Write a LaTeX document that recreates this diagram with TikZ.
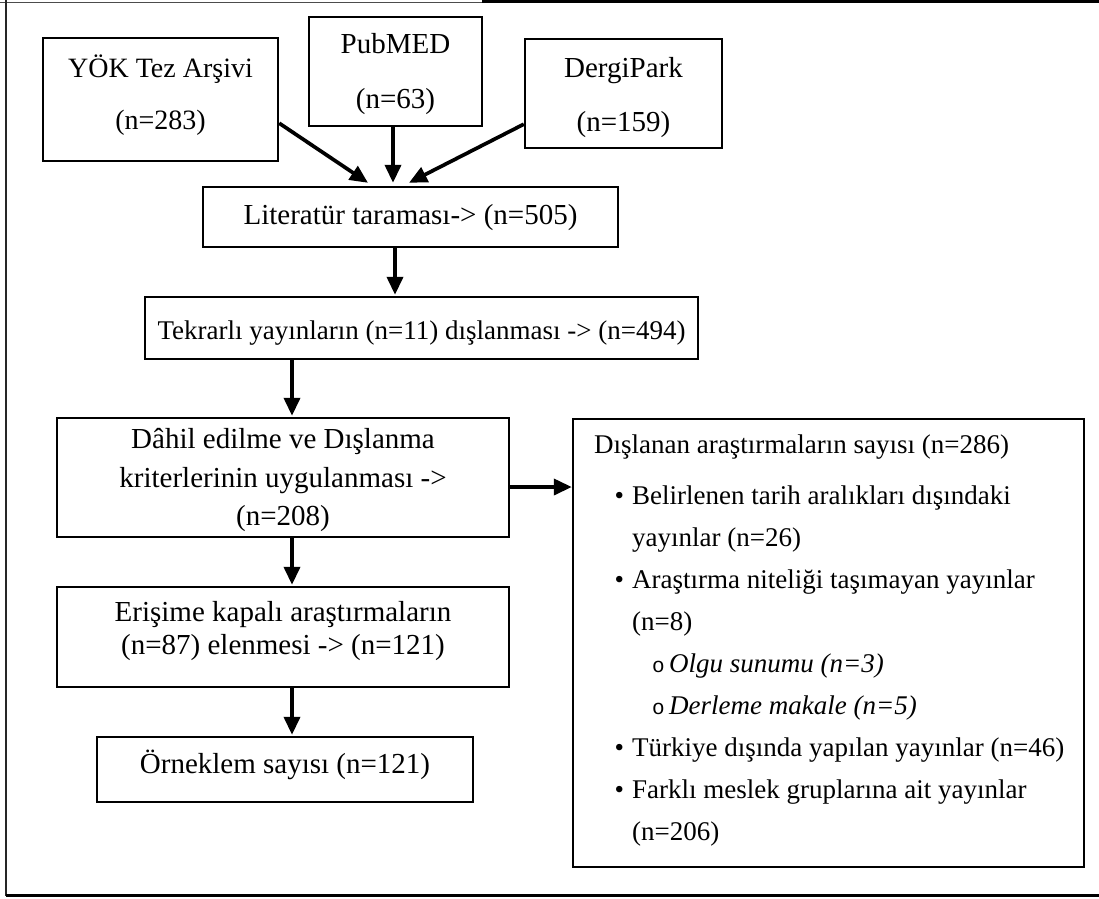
\documentclass[tikz,border=0pt]{standalone}
\usepackage{fontspec}
\setmainfont{Liberation Serif}
\newfontfamily\monofont{Liberation Mono}
\usetikzlibrary{arrows.meta}
\begin{document}
\begin{tikzpicture}[x=1pt,y=-1pt,
  box/.style={draw=black, line width=2.4pt, inner sep=0pt},
  txt/.style={anchor=base, inner sep=0pt, font=\fontsize{29}{34}\selectfont},
  rtxt/.style={anchor=base west, inner sep=0pt, font=\fontsize{27}{34}\selectfont},
  circ/.style={anchor=base west, inner sep=0pt, font=\fontsize{21}{34}\monofont},
  arr/.style={line width=3.7pt, -{Triangle[length=18pt,width=16pt]}},
]
\useasboundingbox (0,0) rectangle (1099,898);
% outer frame
\draw[line width=1pt, black!70] (0,2) -- (482,2);
\draw[line width=3pt, black] (482,1.5) -- (1099,1.5);
\draw[line width=2.5pt, black!85] (6,0) -- (6,896);
\draw[line width=3pt, black] (6,895.5) -- (1099,895.5);

% boxes
\node[box, minimum width=235, minimum height=123] (yok) at (160.5,99.5) {};
\node[box, minimum width=173, minimum height=109] (pub) at (395.5,71.5) {};
\node[box, minimum width=197, minimum height=109] (derg) at (623.5,93.5) {};
\node[box, minimum width=415, minimum height=60] (lit) at (410.5,217) {};
\node[box, minimum width=553, minimum height=62] (tek) at (421.5,328) {};
\node[box, minimum width=452, minimum height=119] (dah) at (283,477.5) {};
\node[box, minimum width=452, minimum height=100] (eri) at (283,637) {};
\node[box, minimum width=376, minimum height=65] (orn) at (285,769.5) {};
\node[box, minimum width=511, minimum height=448] (dis) at (828.5,643) {};

% texts
\node[txt, font=\fontsize{28}{34}\selectfont] (yok1) at (160.5,77) {YÖK Tez Arşivi};
\node[txt, font=\fontsize{28}{34}\selectfont] (yok2) at (160.5,129) {(n=283)};
\node[txt] (pub1) at (395.5,53) {PubMED};
\node[txt] (pub2) at (395.5,108) {(n=63)};
\node[txt] (derg1) at (623.5,77) {DergiPark};
\node[txt] (derg2) at (623.5,131) {(n=159)};
\node[txt] (lit1) at (410.5,224) {Literatür taraması-> (n=505)};
\node[txt, font=\fontsize{27}{34}\selectfont] (tek1) at (421.5,339) {Tekrarlı yayınların (n=11) dışlanması -> (n=494)};
\node[txt] (dah1) at (283,448) {Dâhil edilme ve Dışlanma};
\node[txt] (dah2) at (283,487) {kriterlerinin uygulanması ->};
\node[txt] (dah3) at (283,525) {(n=208)};
\node[txt] (eri1) at (283,621) {Erişime kapalı araştırmaların};
\node[txt] (eri2) at (283,654) {(n=87) elenmesi -> (n=121)};
\node[txt] (orn1) at (285,773) {Örneklem sayısı (n=121)};

\node[rtxt] (h) at (594,453) {Dışlanan araştırmaların sayısı (n=286)};
\node[rtxt] (b1) at (614.5,504) {•};
\node[rtxt] (l1) at (632,504) {Belirlenen tarih aralıkları dışındaki};
\node[rtxt] (l2) at (632,546) {yayınlar (n=26)};
\node[rtxt] (b2) at (614.5,588) {•};
\node[rtxt] (l3) at (632,588) {Araştırma niteliği taşımayan yayınlar};
\node[rtxt] (l4) at (632,630) {(n=8)};
\node[circ] (o1) at (652,672) {o};
\node[rtxt] (l5) at (669,672) {\itshape Olgu sunumu (n=3)};
\node[circ] (o2) at (652,714) {o};
\node[rtxt] (l6) at (669,714) {\itshape Derleme makale (n=5)};
\node[rtxt] (b3) at (614.5,756) {•};
\node[rtxt] (l7) at (632,756) {Türkiye dışında yapılan yayınlar (n=46)};
\node[rtxt] (b4) at (614.5,798) {•};
\node[rtxt] (l8) at (632,798) {Farklı meslek gruplarına ait yayınlar};
\node[rtxt] (l9) at (632,840) {(n=206)};

% arrows
\draw[arr] ([yshift=39pt]yok.south east) -- ([xshift=-42.5pt,yshift=3pt]lit.north);
\draw[arr] ([xshift=-2.5pt]pub.south) -- ([xshift=-2.5pt,yshift=3pt]pub.south |- lit.north);
\draw[arr] ([yshift=25pt]derg.south west) -- ([xshift=-1.5pt,yshift=3pt]lit.north);
\draw[arr] ([xshift=-15.5pt]lit.south) -- ([xshift=-15.5pt,yshift=1pt]lit.south |- tek.north);
\draw[arr] ([xshift=9pt]dah.north |- tek.south) -- ([xshift=9pt,yshift=1pt]dah.north);
\draw[arr] ([yshift=-9.5pt]dah.east) -- ([yshift=-9.5pt]dah.east -| dis.west);
\draw[arr] ([xshift=9pt]dah.south) -- ([xshift=9pt,yshift=1pt]eri.north);
\draw[arr] ([xshift=9pt]eri.south) -- ([xshift=9pt,yshift=1pt]eri.south |- orn.north);
\end{tikzpicture}
\end{document}
